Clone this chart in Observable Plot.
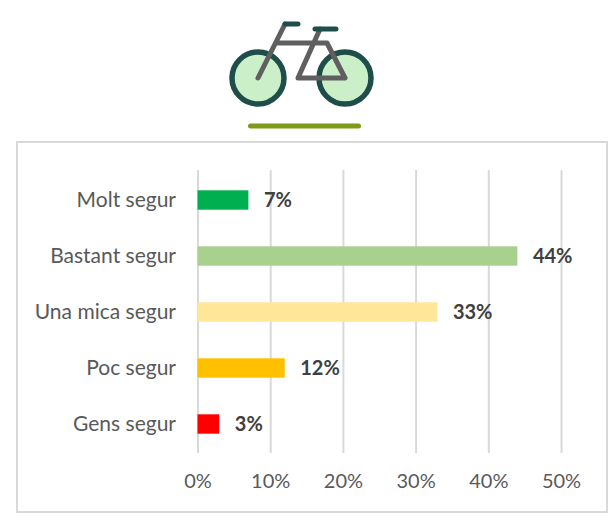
<!DOCTYPE html>
<html><head><meta charset="utf-8">
<script src="https://cdn.jsdelivr.net/npm/d3@7"></script>
<script src="https://cdn.jsdelivr.net/npm/@observablehq/plot@0.6"></script>
<style>
html,body{margin:0;padding:0;background:#fff;width:616px;height:520px;overflow:hidden}
#icon{position:absolute;left:0;top:0}
#frame{position:absolute;left:16px;top:141px;width:592px;height:372px;box-sizing:border-box;border:2px solid #d9d9d9;background:#fff}
#frame svg{display:block}
</style></head><body>
<svg id="icon" width="616" height="140" fill="none" stroke-linecap="round" stroke-linejoin="round">
  <circle cx="258" cy="78" r="26" fill="#cbefc8" stroke="#1f4e4a" stroke-width="5.5"/>
  <circle cx="345" cy="78" r="26" fill="#cbefc8" stroke="#1f4e4a" stroke-width="5.5"/>
  <path d="M258 78L285 24M277 43H327L345 78H298L320 29" stroke="#5f5f5f" stroke-width="5"/>
  <path d="M285 24H298M315 29H336" stroke="#1f4e4a" stroke-width="5"/>
  <path d="M250.500 126H358.500" stroke="#7f9a1a" stroke-width="5"/>
</svg>
<div id="frame"></div>
<script>
const categories = ["Molt segur","Bastant segur","Una mica segur","Poc segur","Gens segur"];
const values = [7,44,33,12,3];
const colors = ["#00b050","#a9d18e","#ffe699","#ffc000","#ff0000"];
const xTicks = [0,10,20,30,40,50];
const rows = categories.map((c,i)=>({category:c,value:values[i],color:colors[i]}));
const font = "Lato, 'Open Sans', sans-serif";
const chart = Plot.plot({
  width:588,height:368,
  marginLeft:179.500,marginRight:45,marginTop:27,marginBottom:58,
  style:{fontFamily:font,fontSize:"20px",color:"#595959",background:"transparent"},
  x:{domain:[0,50],ticks:xTicks},
  y:{domain:categories,padding:0,align:0.5},
  marks:[
    Plot.ruleX(xTicks,{stroke:"#d9d9d9",strokeWidth:2,strokeOpacity:1}),
    Plot.barX(rows,{x1:0,x2:"value",y:"category",fill:"color",insetTop:18.300,insetBottom:18.300}),
    Plot.text(rows,{x:"value",y:"category",text:d=>d.value+"%",dx:15,textAnchor:"start",fontWeight:"bold",fill:"#404040",fontSize:20}),
    Plot.axisX({ticks:xTicks,tickFormat:d=>d+"%",tickSize:0,tickPadding:20,label:null,fontSize:20,fill:"#595959"}),
    Plot.axisY({tickSize:0,tickPadding:22,label:null,fontSize:21,fill:"#595959"})
  ]
});
document.getElementById("frame").append(chart);
</script>
</body></html>
